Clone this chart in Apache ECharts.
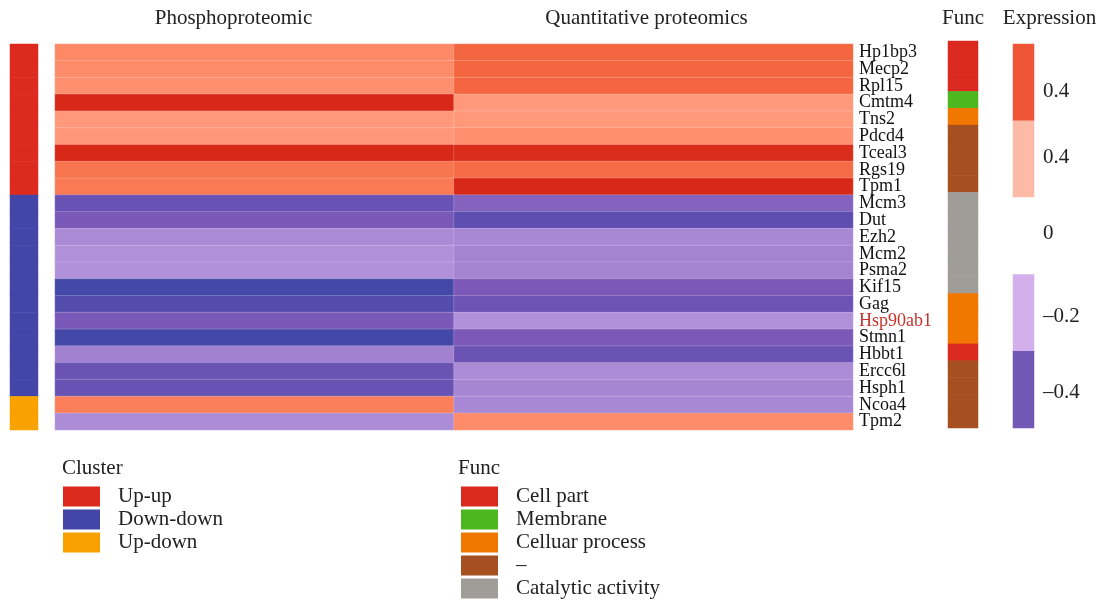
<!DOCTYPE html>
<html>
<head>
<meta charset="utf-8">
<script src="https://cdn.jsdelivr.net/npm/echarts@6/dist/echarts.min.js"></script>
<style>
html,body{margin:0;padding:0;background:#fff;}
#chart{width:1105px;height:610px;}
</style>
</head>
<body>
<div id="chart"></div>
<script>
const genes = ['Hp1bp3','Mecp2','Rpl15','Cmtm4','Tns2','Pdcd4','Tceal3','Rgs19','Tpm1','Mcm3','Dut','Ezh2','Mcm2','Psma2','Kif15','Gag','Hsp90ab1','Stmn1','Hbbt1','Ercc6l','Hsph1','Ncoa4','Tpm2'];
const highlightGene = 'Hsp90ab1';
const columns = ['Phosphoproteomic','Quantitative proteomics'];
const phospho = [0.22, 0.21, 0.18, 0.50, 0.13, 0.14, 0.50, 0.31, 0.29, -0.33, -0.26, -0.14, -0.125, -0.125, -0.48, -0.41, -0.26, -0.48, -0.16, -0.32, -0.33, 0.27, -0.135];
const quant   = [0.37, 0.37, 0.37, 0.13, 0.13, 0.18, 0.49, 0.35, 0.50, -0.23, -0.37, -0.145, -0.155, -0.155, -0.25, -0.31, -0.125, -0.25, -0.32, -0.135, -0.15, -0.145, 0.21];

const clusterNames = ['Up-up','Down-down','Up-down'];
const clusterColors = ['#DC2B1E','#4346A8','#F9A100'];
const geneCluster = [0,0,0,0,0,0,0,0,0,1,1,1,1,1,1,1,1,1,1,1,1,2,2];

const funcNames = ['Cell part','Membrane','Celluar process','–','Catalytic activity'];
const funcColors = ['#DA2A1F','#4CB71F','#F07800','#A65021','#A09D99'];
const geneFunc = [0,0,0,1,2,3,3,3,3,4,4,4,4,4,4,2,2,2,0,3,3,3,3];

const expLabels = ['0.4','0.4','0','–0.2','–0.4'];
const expColors = ['#EF5537','#FDBAA7','#FFFFFF','#D3B0EB','#7158B5'];

const FONT = "'Liberation Serif','DejaVu Serif',serif";
const TXT = '#222';

const heatData = [];
genes.forEach((g, i) => {
  heatData.push([0, i, phospho[i]]);
  heatData.push([1, i, quant[i]]);
});
const clusterData = genes.map((g, i) => ({value: [0, i, geneCluster[i]], itemStyle: {color: clusterColors[geneCluster[i]]}}));
const funcData = genes.map((g, i) => ({value: [0, i, geneFunc[i]], itemStyle: {color: funcColors[geneFunc[i]]}}));
const expData = expLabels.map((l, i) => ({value: [0, i, i], itemStyle: {color: expColors[i]}}));

// vertical nudges of the expression legend labels (px, positive = down)
const expLabelNudge = [9, -2, -3, 4, 3];
const expRich = {};
expLabelNudge.forEach((n, i) => {
  expRich['n' + i] = {fontSize: 21, fontFamily: FONT, color: TXT,
    padding: n >= 0 ? [2 * n, 0, 0, 0] : [0, 0, -2 * n, 0]};
});

const hiddenAxis = {show: true, axisLine: {show: false}, axisTick: {show: false}, axisLabel: {show: false}, splitLine: {show: false}};

const dummySeries = [];
clusterNames.forEach((n, i) => dummySeries.push({type: 'bar', name: n, data: [], xAxisIndex: 1, yAxisIndex: 1, itemStyle: {color: clusterColors[i]}}));
funcNames.forEach((n, i) => dummySeries.push({type: 'bar', name: n, data: [], xAxisIndex: 2, yAxisIndex: 2, itemStyle: {color: funcColors[i]}}));

const legendBase = {
  orient: 'vertical', icon: 'rect', itemWidth: 37, itemHeight: 20, itemGap: 2, padding: 0,
  selectedMode: false,
  textStyle: {fontSize: 21, fontFamily: FONT, color: TXT, padding: [0, 0, 0, 13]}
};

const option = {
  backgroundColor: '#fff',
  animation: false,
  textStyle: {fontFamily: FONT},
  title: [
    {text: 'Cluster', left: 62, top: 458, padding: 0, textStyle: {fontSize: 21, fontWeight: 'normal', fontFamily: FONT, color: TXT}},
    {text: 'Func', left: 458, top: 458, padding: 0, textStyle: {fontSize: 21, fontWeight: 'normal', fontFamily: FONT, color: TXT}}
  ],
  legend: [
    Object.assign({}, legendBase, {data: clusterNames, left: 63, top: 486}),
    Object.assign({}, legendBase, {data: funcNames, left: 461, top: 486})
  ],
  grid: [
    {left: 55, top: 44, width: 798, height: 386},
    {left: 10, top: 44, width: 28, height: 386},
    {left: 948, top: 41, width: 30, height: 387},
    {left: 1013, top: 44, width: 21, height: 384}
  ],
  xAxis: [
    {type: 'category', gridIndex: 0, position: 'top',
     data: [
       {value: columns[0], textStyle: {padding: [0, 42, 0, 0]}},
       {value: columns[1], textStyle: {padding: [0, 14, 0, 0]}}
     ],
     axisLine: {show: false}, axisTick: {show: false}, splitLine: {show: false},
     axisLabel: {fontSize: 21, fontFamily: FONT, color: TXT, margin: 15}},
    Object.assign({type: 'category', gridIndex: 1, data: ['']}, hiddenAxis),
    {type: 'category', gridIndex: 2, position: 'top', data: ['Func'],
     axisLine: {show: false}, axisTick: {show: false}, splitLine: {show: false},
     axisLabel: {fontSize: 21, fontFamily: FONT, color: TXT, margin: 12}},
    {type: 'category', gridIndex: 3, position: 'top',
     data: [{value: 'Expression', textStyle: {padding: [0, 0, 0, 52]}}],
     axisLine: {show: false}, axisTick: {show: false}, splitLine: {show: false},
     axisLabel: {fontSize: 21, fontFamily: FONT, color: TXT, margin: 15}}
  ],
  yAxis: [
    {type: 'category', gridIndex: 0, position: 'right', inverse: true,
     data: genes.map(g => g === highlightGene ? {value: g, textStyle: {color: '#C8322C'}} : g),
     axisLine: {show: false}, axisTick: {show: false}, splitLine: {show: false},
     axisLabel: {fontSize: 18, fontFamily: FONT, color: '#111', margin: 6, interval: 0}},
    Object.assign({type: 'category', gridIndex: 1, data: genes, inverse: true}, hiddenAxis),
    Object.assign({type: 'category', gridIndex: 2, data: genes, inverse: true}, hiddenAxis),
    {type: 'category', gridIndex: 3, position: 'right', inverse: true,
     data: expLabels.map((l, i) => 'e' + i),
     axisLine: {show: false}, axisTick: {show: false}, splitLine: {show: false},
     axisLabel: {fontSize: 21, fontFamily: FONT, color: TXT, margin: 9, interval: 0,
       formatter: (v, i) => '{n' + i + '|' + expLabels[i] + '}', rich: expRich}}
  ],
  visualMap: {
    type: 'continuous', show: false, seriesIndex: 0, min: -0.5, max: 0.5,
    inRange: {color: ['#3F47A5','#5C4EAF','#7C59B9','#B090D9','#FFFFFF','#FF9A7B','#FE8460','#F3653F','#D82818']}
  },
  series: [
    {type: 'heatmap', xAxisIndex: 0, yAxisIndex: 0, data: heatData,
     itemStyle: {borderColor: 'rgba(255,255,255,0.2)', borderWidth: 1}},
    {type: 'heatmap', xAxisIndex: 1, yAxisIndex: 1, data: clusterData},
    {type: 'heatmap', xAxisIndex: 2, yAxisIndex: 2, data: funcData},
    {type: 'heatmap', xAxisIndex: 3, yAxisIndex: 3, data: expData}
  ].concat(dummySeries)
};

const chart = echarts.init(document.getElementById('chart'), null, {renderer: 'canvas'});
chart.setOption(option);
</script>
</body>
</html>
